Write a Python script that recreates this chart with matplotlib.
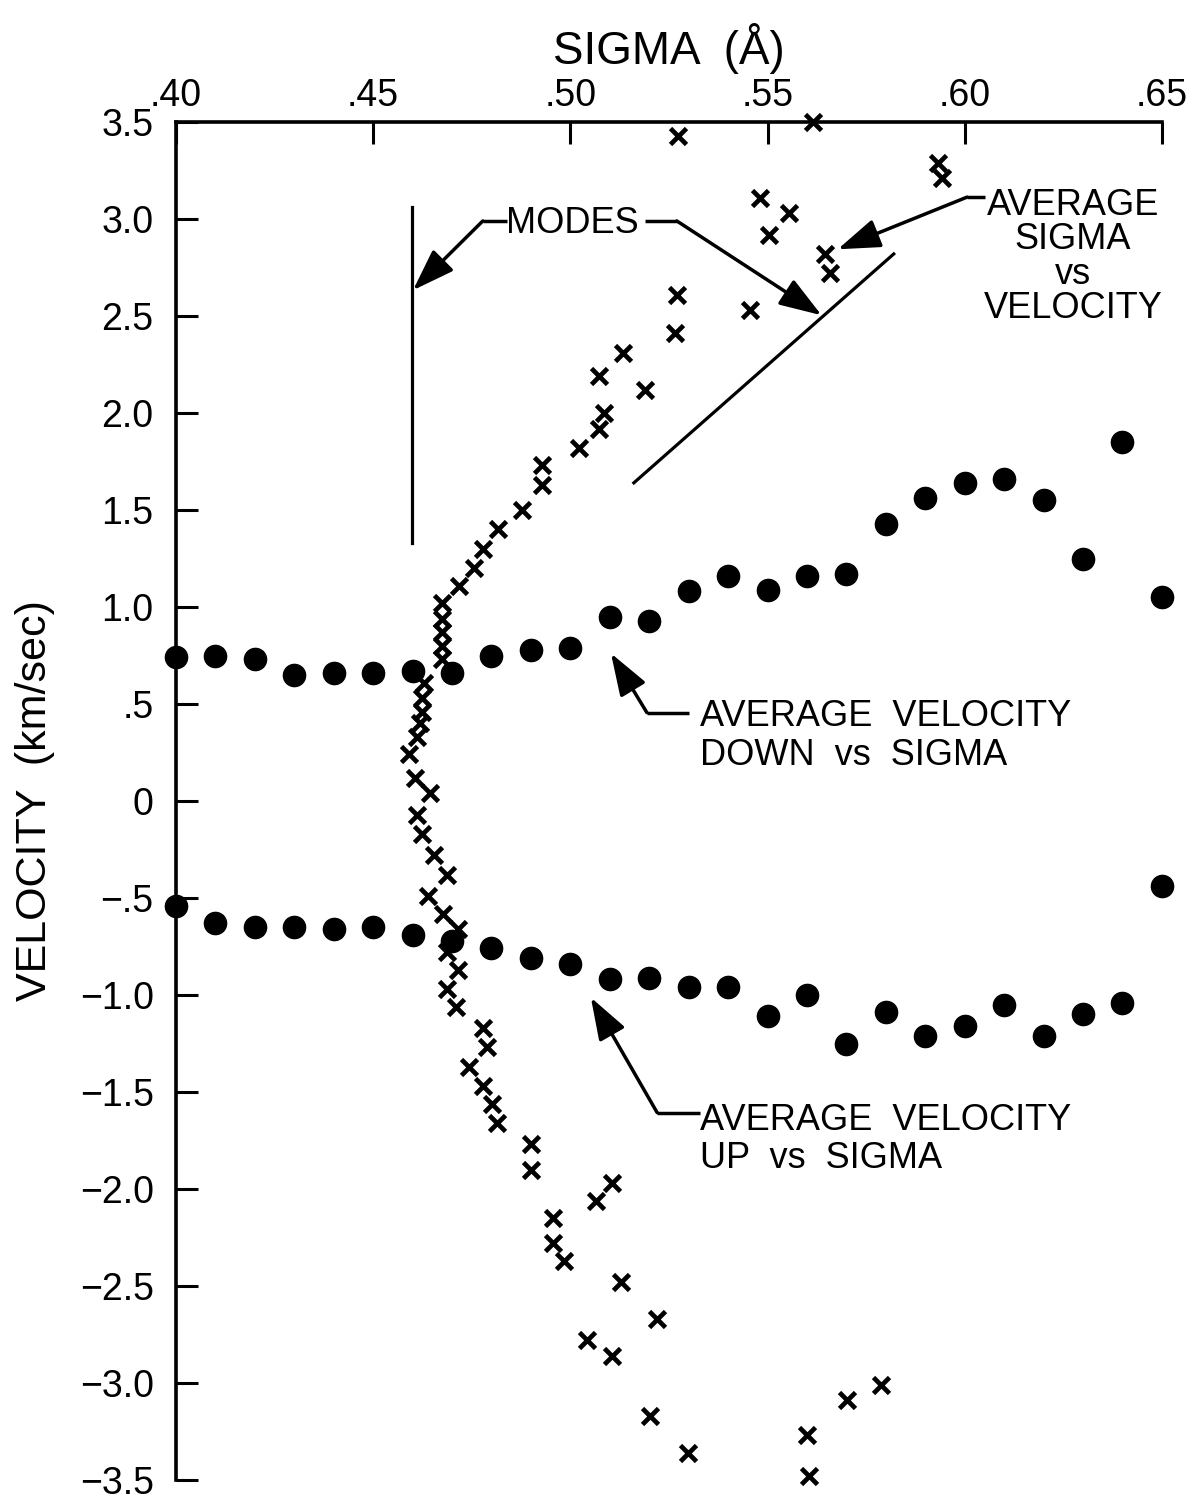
import matplotlib.pyplot as plt

plt.rcParams['font.family'] = ['Liberation Sans', 'DejaVu Sans']

# sigma (angstrom) of the averaged-velocity points
sigma = [0.40, 0.41, 0.42, 0.43, 0.44, 0.45, 0.46, 0.47, 0.48, 0.49, 0.50,
         0.51, 0.52, 0.53, 0.54, 0.55, 0.56, 0.57, 0.58, 0.59, 0.60,
         0.61, 0.62, 0.63, 0.64, 0.65]
# average velocity (km/sec) of the downward and upward moving elements
vel_down = [0.74, 0.75, 0.73, 0.65, 0.66, 0.66, 0.67, 0.66, 0.75, 0.78, 0.79,
            0.95, 0.93, 1.08, 1.16, 1.09, 1.16, 1.17, 1.43, 1.56, 1.64,
            1.66, 1.55, 1.25, 1.85, 1.05]
vel_up = [-0.54, -0.63, -0.65, -0.65, -0.66, -0.65, -0.69, -0.72, -0.76, -0.81, -0.84,
          -0.92, -0.91, -0.96, -0.96, -1.11, -1.00, -1.25, -1.09, -1.21, -1.16,
          -1.05, -1.21, -1.10, -1.04, -0.44]

# average sigma in each velocity bin
avg_sigma = [0.5273, 0.5615, 0.5932, 0.5942, 0.5481, 0.5554, 0.5504, 0.5646, 0.5658,
             0.5270, 0.5455, 0.5265, 0.5133, 0.5072, 0.5189, 0.5085, 0.5072, 0.5022,
             0.4928, 0.4928, 0.4877, 0.4816, 0.4778, 0.4755, 0.4718, 0.4674, 0.4674,
             0.4674, 0.4674, 0.4674,
             0.4630, 0.4625, 0.4625, 0.4620, 0.4610, 0.4590, 0.4606, 0.4645, 0.4610,
             0.4625, 0.4655, 0.4686, 0.4640, 0.4677, 0.4715, 0.4686, 0.4715, 0.4686,
             0.4710,
             0.4778, 0.4789, 0.4743, 0.4778, 0.4801, 0.4814, 0.4900, 0.4900, 0.5105,
             0.5064, 0.4957, 0.4957, 0.4984, 0.5128, 0.5220, 0.5042, 0.5105, 0.5202,
             0.5298, 0.5600, 0.5605, 0.5701, 0.5788]
avg_vel = [3.43, 3.50, 3.29, 3.21, 3.11, 3.03, 2.92, 2.82, 2.72,
           2.61, 2.53, 2.41, 2.31, 2.19, 2.12, 2.00, 1.92, 1.82,
           1.73, 1.63, 1.50, 1.40, 1.30, 1.20, 1.11, 1.02, 0.94,
           0.87, 0.80, 0.73,
           0.61, 0.53, 0.46, 0.40, 0.33, 0.24, 0.12, 0.04, -0.07,
           -0.17, -0.28, -0.38, -0.49, -0.58, -0.66, -0.78, -0.87, -0.97,
           -1.06,
           -1.17, -1.27, -1.37, -1.47, -1.56, -1.66, -1.77, -1.90, -1.97,
           -2.06, -2.15, -2.28, -2.37, -2.48, -2.67, -2.78, -2.86, -3.17,
           -3.36, -3.27, -3.48, -3.09, -3.01]

# the two modes
mode1_sigma = [0.4598, 0.4598]
mode1_vel = [1.33, 3.06]
mode2_sigma = [0.5161, 0.5820]
mode2_vel = [1.64, 2.82]

xticks = [0.40, 0.45, 0.50, 0.55, 0.60, 0.65]
xtick_labels = ['.40', '.45', '.50', '.55', '.60', '.65']
yticks = [-3.5, -3.0, -2.5, -2.0, -1.5, -1.0, -0.5, 0, 0.5, 1.0, 1.5, 2.0, 2.5, 3.0, 3.5]
ytick_labels = ['\u22123.5', '\u22123.0', '\u22122.5', '\u22122.0', '\u22121.5', '\u22121.0',
                '\u2212.5', '0', '.5', '1.0', '1.5', '2.0', '2.5', '3.0', '3.5']

fig = plt.figure(figsize=(11.97, 15.01), dpi=100)
ax = fig.add_axes([0.147, 0.014, 0.8237, 0.9047])
ax.set_xlim(0.40, 0.65)
ax.set_ylim(-3.5, 3.5)

ax.plot(sigma, vel_down, 'o', color='black', markersize=16, clip_on=False)
ax.plot(sigma, vel_up, 'o', color='black', markersize=16, clip_on=False)
ax.plot(avg_sigma, avg_vel, 'x', color='black', markersize=11.5, mew=3.4, clip_on=False)
ax.plot(mode1_sigma, mode1_vel, color='black', lw=2.3)
ax.plot(mode2_sigma, mode2_vel, color='black', lw=2.3)

for side in ('right', 'bottom'):
    ax.spines[side].set_visible(False)
for side in ('left', 'top'):
    ax.spines[side].set_linewidth(2.6)

ax.xaxis.tick_top()
ax.xaxis.set_label_position('top')
ax.set_xticks(xticks)
ax.set_xticklabels(xtick_labels)
ax.set_yticks(yticks)
ax.set_yticklabels(ytick_labels)
ax.tick_params(axis='x', direction='in', length=16, width=2.2, pad=6, labelsize=27)
ax.tick_params(axis='y', direction='in', length=16, width=2.2, pad=16, labelsize=27)

ax.set_xlabel('SIGMA  (\u00c5)', fontsize=33, labelpad=10)
ax.set_ylabel('VELOCITY  (km/sec)', fontsize=31, labelpad=18)

arrow = dict(arrowstyle='-|>,head_length=1.3,head_width=0.45', color='black',
             lw=2.5, shrinkA=0, shrinkB=0, mutation_scale=20)


def leader(stub, v, tip):
    # short horizontal stub from the label, then an arrow to the feature
    ax.plot(stub, [v, v], color='black', lw=2.5, solid_capstyle='butt')
    ax.annotate('', xy=tip, xytext=(stub[1], v), arrowprops=arrow)


leader((0.4839, 0.4778), 2.99, (0.4601, 2.633))
leader((0.5189, 0.5270), 2.99, (0.5637, 2.504))
leader((0.6051, 0.6006), 3.113, (0.5678, 2.844))
leader((0.5301, 0.5194), 0.456, (0.5103, 0.761))
leader((0.5329, 0.5220), -1.606, (0.5052, -1.013))

fs = 26
ax.text(0.5004, 2.927, 'MODES', fontsize=fs, ha='center', va='baseline')
ax.text(0.6274, 3.16, 'AVERAGE\nSIGMA\nvs\nVELOCITY', fontsize=fs, ha='center',
        va='top', multialignment='center', linespacing=0.98)
ax.text(0.5329, 0.387, 'AVERAGE  VELOCITY', fontsize=fs, ha='left', va='baseline')
ax.text(0.5329, 0.186, 'DOWN  vs  SIGMA', fontsize=fs, ha='left', va='baseline')
ax.text(0.5329, -1.697, 'AVERAGE  VELOCITY', fontsize=fs, ha='left', va='baseline')
ax.text(0.5329, -1.893, 'UP  vs  SIGMA', fontsize=fs, ha='left', va='baseline')

fig.savefig('out.png', dpi=100)
